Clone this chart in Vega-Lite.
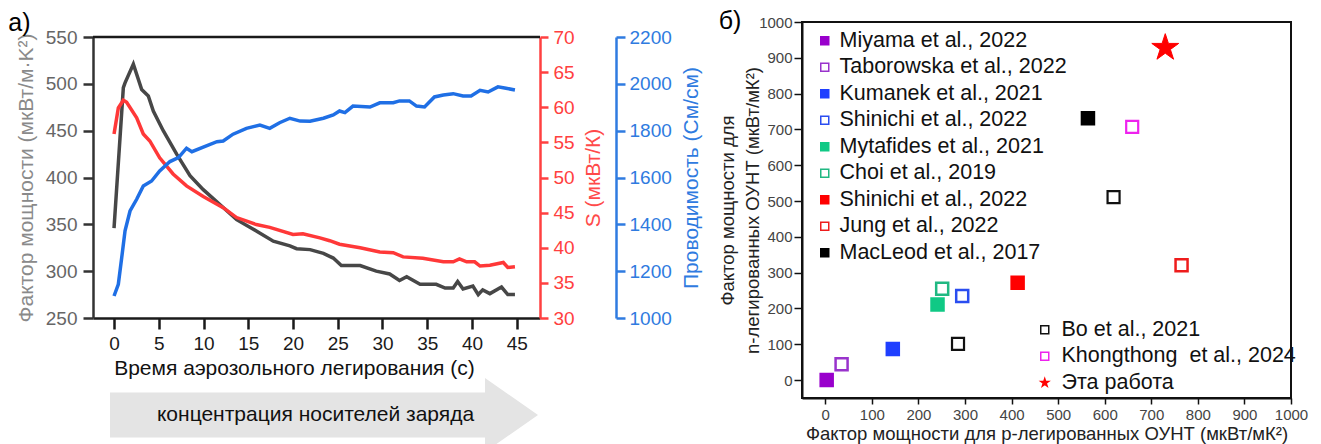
{
  "$schema": "https://vega.github.io/schema/vega-lite/v6.json",
  "padding": {"left": 8, "top": 8, "right": 0, "bottom": 0},
  "background": "white",
  "config": {
    "font": "Liberation Sans",
    "view": {"stroke": null},
    "legend": {"labelFontSize": 21.5, "labelColor": "#111111", "symbolSize": 64, "symbolStrokeWidth": 1.5, "rowPadding": 3.5, "padding": 0, "title": null, "labelLimit": 500}
  },
  "datasets": {
    "pf": [
      {"t": 0, "pf": 346}, {"t": 1.04, "pf": 496}, {"t": 1.23, "pf": 501}, {"t": 2.16, "pf": 521}, {"t": 3.09, "pf": 494},
      {"t": 3.83, "pf": 487}, {"t": 4.39, "pf": 471}, {"t": 5.5, "pf": 450}, {"t": 7.0, "pf": 425}, {"t": 8.49, "pf": 402},
      {"t": 9.97, "pf": 387}, {"t": 12.2, "pf": 368}, {"t": 13.7, "pf": 355}, {"t": 15.9, "pf": 343}, {"t": 17.8, "pf": 332},
      {"t": 19.65, "pf": 327}, {"t": 20.4, "pf": 324}, {"t": 21.9, "pf": 323}, {"t": 23.0, "pf": 320}, {"t": 23.4, "pf": 319},
      {"t": 24.5, "pf": 314}, {"t": 25.4, "pf": 306}, {"t": 27.5, "pf": 306}, {"t": 29.3, "pf": 300}, {"t": 30.8, "pf": 297},
      {"t": 31.9, "pf": 290}, {"t": 32.7, "pf": 294}, {"t": 34.2, "pf": 286}, {"t": 36.0, "pf": 286}, {"t": 37.0, "pf": 282},
      {"t": 37.9, "pf": 282}, {"t": 38.4, "pf": 289}, {"t": 39.0, "pf": 281}, {"t": 40.1, "pf": 284}, {"t": 40.7, "pf": 275},
      {"t": 41.2, "pf": 280}, {"t": 42.0, "pf": 276}, {"t": 43.3, "pf": 283}, {"t": 44.0, "pf": 275}, {"t": 44.8, "pf": 275}
    ],
    "seebeck": [
      {"t": 0, "s": 56.2}, {"t": 0.48, "s": 59.9}, {"t": 1.04, "s": 61.0}, {"t": 1.41, "s": 60.7}, {"t": 2.53, "s": 58.5},
      {"t": 3.27, "s": 56.2}, {"t": 4.0, "s": 55.2}, {"t": 5.1, "s": 52.8}, {"t": 6.6, "s": 50.5}, {"t": 8.1, "s": 48.8},
      {"t": 9.97, "s": 47.3}, {"t": 12.2, "s": 45.7}, {"t": 13.7, "s": 44.3}, {"t": 15.9, "s": 43.3}, {"t": 17.4, "s": 42.9},
      {"t": 20.0, "s": 41.9}, {"t": 21.1, "s": 42.0}, {"t": 23.0, "s": 41.4}, {"t": 24.1, "s": 41.0}, {"t": 25.2, "s": 40.5},
      {"t": 27.5, "s": 40.0}, {"t": 29.7, "s": 39.4}, {"t": 31.2, "s": 39.3}, {"t": 32.3, "s": 38.7}, {"t": 34.5, "s": 38.5},
      {"t": 36.8, "s": 38.0}, {"t": 37.9, "s": 38.0}, {"t": 38.6, "s": 38.4}, {"t": 39.4, "s": 38.0}, {"t": 40.3, "s": 38.0},
      {"t": 40.9, "s": 37.4}, {"t": 42.0, "s": 37.5}, {"t": 43.5, "s": 37.9}, {"t": 44.0, "s": 37.2}, {"t": 44.8, "s": 37.3}
    ],
    "cond": [
      {"t": 0, "c": 1094}, {"t": 0.48, "c": 1144}, {"t": 0.86, "c": 1258}, {"t": 1.23, "c": 1372}, {"t": 1.79, "c": 1457},
      {"t": 2.53, "c": 1507}, {"t": 3.27, "c": 1564}, {"t": 4.2, "c": 1585}, {"t": 5.1, "c": 1628}, {"t": 6.25, "c": 1668},
      {"t": 7.2, "c": 1685}, {"t": 8.1, "c": 1725}, {"t": 8.7, "c": 1710}, {"t": 9.97, "c": 1730}, {"t": 11.5, "c": 1753},
      {"t": 12.2, "c": 1756}, {"t": 13.3, "c": 1785}, {"t": 14.8, "c": 1810}, {"t": 16.3, "c": 1824}, {"t": 17.4, "c": 1810},
      {"t": 18.5, "c": 1834}, {"t": 19.65, "c": 1853}, {"t": 20.8, "c": 1841}, {"t": 21.9, "c": 1840}, {"t": 23.4, "c": 1853},
      {"t": 24.5, "c": 1867}, {"t": 25.2, "c": 1884}, {"t": 25.8, "c": 1877}, {"t": 26.7, "c": 1905}, {"t": 28.6, "c": 1901},
      {"t": 29.7, "c": 1919}, {"t": 31.2, "c": 1919}, {"t": 31.9, "c": 1927}, {"t": 33.0, "c": 1927}, {"t": 33.8, "c": 1905},
      {"t": 34.7, "c": 1901}, {"t": 35.8, "c": 1944}, {"t": 36.8, "c": 1952}, {"t": 37.9, "c": 1958}, {"t": 39.0, "c": 1948},
      {"t": 39.9, "c": 1948}, {"t": 40.9, "c": 1972}, {"t": 41.8, "c": 1965}, {"t": 42.9, "c": 1987}, {"t": 43.8, "c": 1981},
      {"t": 44.8, "c": 1974}
    ],
    "refsA": [
      {"study": "Miyama et al., 2022", "p": 3, "n": 0},
      {"study": "Taborowska et al., 2022", "p": 35, "n": 44},
      {"study": "Kumanek et al., 2021", "p": 145, "n": 87},
      {"study": "Shinichi et al., 2022", "p": 294, "n": 235},
      {"study": "Mytafides et al., 2021", "p": 241, "n": 211},
      {"study": "Choi et al., 2019", "p": 251, "n": 255},
      {"study": "\u00a0Shinichi et al., 2022", "p": 413, "n": 272},
      {"study": "\u00a0Jung et al., 2022", "p": 765, "n": 321},
      {"study": "\u00a0MacLeod et al., 2017", "p": 564, "n": 731}
    ],
    "refsB": [
      {"study": "Bo et al., 2021", "p": 285, "n": 101},
      {"study": "Bo et al., 2021", "p": 619, "n": 511},
      {"study": "Khongthong\u00a0 et al., 2024", "p": 659, "n": 707},
      {"study": "Эта работа", "p": 730, "n": 928}
    ]
  },
  "spacing": 15,
  "hconcat": [
    {
      "spacing": -19,
      "vconcat": [
        {
          "width": 447,
          "height": 296,
          "title": {"text": "а)", "anchor": "start", "frame": "bounds", "fontSize": 25, "fontWeight": "normal", "color": "#000000", "offset": -14, "dx": -7},
          "layer": [
            {
              "layer": [
                {
                  "data": {"name": "pf"},
                  "mark": {"type": "line", "color": "#474747", "strokeWidth": 3.5},
                  "encoding": {
                    "x": {"field": "t", "type": "quantitative", "scale": {"domain": [-2.35, 47.6], "nice": false, "zero": false},
                      "axis": {"title": "Время аэрозольного легирования (с)", "values": [0, 5, 10, 15, 20, 25, 30, 35, 40, 45], "grid": false, "labelFlush": false, "domainColor": "#1a1a1a", "domainWidth": 2.5, "tickColor": "#1a1a1a", "tickWidth": 2.5, "tickSize": 11, "labelColor": "#1a1a1a", "labelFontSize": 19, "labelPadding": 5, "titleColor": "#111111", "titleFontSize": 21, "titleFontWeight": "normal", "titlePadding": 4, "titleX": 201}},
                    "y": {"field": "pf", "type": "quantitative", "scale": {"domain": [250, 550], "range": [296, 15], "nice": false, "zero": false},
                      "axis": {"title": "Фактор мощности (мкВт/м·K²)", "orient": "left", "values": [250, 300, 350, 400, 450, 500, 550], "format": "d", "grid": false, "labelFlush": false, "domainColor": "#333333", "domainWidth": 2.5, "tickColor": "#333333", "tickWidth": 2.5, "tickSize": 10, "labelColor": "#666666", "labelFontSize": 19, "labelPadding": 6, "titleColor": "#8a8a8a", "titleFontSize": 21, "titleFontWeight": "normal", "titlePadding": 9}}
                  }
                },
                {
                  "data": {"values": [{}]},
                  "mark": {"type": "rule", "color": "#1a1a1a", "strokeWidth": 2.5},
                  "encoding": {"y": {"datum": 550}}
                }
              ]
            },
            {
              "data": {"name": "seebeck"},
              "mark": {"type": "line", "color": "#ff3838", "strokeWidth": 3.5},
              "encoding": {
                "x": {"field": "t", "type": "quantitative", "scale": {"domain": [-2.35, 47.6], "nice": false, "zero": false},
                  "axis": {"title": "Время аэрозольного легирования (с)", "values": [0, 5, 10, 15, 20, 25, 30, 35, 40, 45], "grid": false, "labelFlush": false, "domainColor": "#1a1a1a", "domainWidth": 2.5, "tickColor": "#1a1a1a", "tickWidth": 2.5, "tickSize": 11, "labelColor": "#1a1a1a", "labelFontSize": 19, "labelPadding": 5, "titleColor": "#111111", "titleFontSize": 21, "titleFontWeight": "normal", "titlePadding": 4, "titleX": 201}},
                "y": {"field": "s", "type": "quantitative", "scale": {"domain": [30, 70], "range": [296, 15], "nice": false, "zero": false},
                  "axis": {"title": "S (мкВт/К)", "orient": "right", "values": [30, 35, 40, 45, 50, 55, 60, 65, 70], "format": "d", "grid": false, "labelFlush": false, "domainColor": "#ff4040", "domainWidth": 2.5, "tickColor": "#ff4040", "tickWidth": 2.5, "tickSize": 8, "labelColor": "#ff4040", "labelFontSize": 19, "labelPadding": 5, "titleColor": "#ff4a4a", "titleFontSize": 21, "titleFontWeight": "normal", "titlePadding": 8, "titleAngle": 270, "titleBaseline": "top"}}
              }
            },
            {
              "data": {"name": "cond"},
              "mark": {"type": "line", "color": "#1f6fe5", "strokeWidth": 3.5},
              "encoding": {
                "x": {"field": "t", "type": "quantitative", "scale": {"domain": [-2.35, 47.6], "nice": false, "zero": false},
                  "axis": {"title": "Время аэрозольного легирования (с)", "values": [0, 5, 10, 15, 20, 25, 30, 35, 40, 45], "grid": false, "labelFlush": false, "domainColor": "#1a1a1a", "domainWidth": 2.5, "tickColor": "#1a1a1a", "tickWidth": 2.5, "tickSize": 11, "labelColor": "#1a1a1a", "labelFontSize": 19, "labelPadding": 5, "titleColor": "#111111", "titleFontSize": 21, "titleFontWeight": "normal", "titlePadding": 4, "titleX": 201}},
                "y": {"field": "c", "type": "quantitative", "scale": {"domain": [1000, 2200], "range": [296, 15], "nice": false, "zero": false},
                  "axis": {"title": "Проводимость (См/см)", "orient": "right", "offset": 76, "values": [1000, 1200, 1400, 1600, 1800, 2000, 2200], "format": "d", "grid": false, "labelFlush": false, "domainColor": "#2f7be0", "domainWidth": 2.5, "tickColor": "#2f7be0", "tickWidth": 2.5, "tickSize": 9, "labelColor": "#2f7be0", "labelFontSize": 19, "labelPadding": 4, "titleColor": "#2f7be0", "titleFontSize": 21, "titleFontWeight": "normal", "titlePadding": 9, "titleAngle": 270, "titleBaseline": "top"}}
              }
            }
          ],
          "resolve": {"scale": {"y": "independent"}, "axis": {"y": "independent"}}
        },
        {
          "width": 447,
          "height": 74,
          "data": {"values": [{"label": "концентрация носителей заряда"}]},
          "layer": [
            {
              "mark": {"type": "point", "shape": "M-20.65,-2.25L16.85,-2.25L16.85,-3.7L22.15,0L16.85,3.7L16.85,2.25L-20.65,2.25Z", "size": 400, "filled": true, "color": "#e4e4e4", "opacity": 1, "strokeWidth": 0},
              "encoding": {}
            },
            {
              "mark": {"type": "text", "fontSize": 21, "color": "#111111", "dx": -1, "baseline": "middle"},
              "encoding": {"text": {"field": "label"}}
            }
          ]
        }
      ]
    },
    {
      "width": 489,
      "height": 376,
      "view": {"stroke": "#111111", "strokeWidth": 2},
      "title": {"text": "б)", "anchor": "start", "frame": "bounds", "fontSize": 25, "fontWeight": "normal", "color": "#000000", "offset": -19},
      "encoding": {
        "x": {"field": "p", "type": "quantitative", "scale": {"domain": [-50, 1000], "nice": false, "zero": false},
          "axis": {"title": "Фактор мощности для p-легированных ОУНТ (мкВт/мК²)", "values": [0, 100, 200, 300, 400, 500, 600, 700, 800, 900, 1000], "format": "d", "grid": false, "labelFlush": false, "domainColor": "#111111", "domainWidth": 2, "tickColor": "#111111", "tickWidth": 1.5, "tickSize": 6, "labelColor": "#444444", "labelFontSize": 15, "labelPadding": 3, "titleColor": "#222222", "titleFontSize": 18.5, "titleFontWeight": "normal", "titlePadding": 2}},
        "y": {"field": "n", "type": "quantitative", "scale": {"domain": [-50, 1000], "nice": false, "zero": false},
          "axis": {"title": ["Фактор мощности для", "n-легированных ОУНТ (мкВт/мК²)"], "values": [0, 100, 200, 300, 400, 500, 600, 700, 800, 900, 1000], "format": "d", "grid": false, "labelFlush": false, "domainColor": "#111111", "domainWidth": 2, "tickColor": "#111111", "tickWidth": 1.5, "tickSize": 8, "labelColor": "#444444", "labelFontSize": 15, "labelPadding": 2, "titleColor": "#222222", "titleFontSize": 18.5, "titleFontWeight": "normal", "titlePadding": -4, "titleLineHeight": 25}}
      },
      "layer": [
        {
          "data": {"name": "refsA"},
          "mark": {"type": "square", "size": 144, "strokeWidth": 2.5, "opacity": 1},
          "encoding": {
            "fill": {"field": "study", "type": "nominal",
              "scale": {"domain": ["Miyama et al., 2022", "Taborowska et al., 2022", "Kumanek et al., 2021", "Shinichi et al., 2022", "Mytafides et al., 2021", "Choi et al., 2019", "\u00a0Shinichi et al., 2022", "\u00a0Jung et al., 2022", "\u00a0MacLeod et al., 2017"],
                "range": ["#9900cc", "transparent", "#1f3fff", "transparent", "#10c985", "transparent", "#ff0000", "transparent", "#000000"]},
              "legend": {"orient": "none", "legendX": 12, "legendY": 8, "labelOffset": 4}},
            "stroke": {"field": "study", "type": "nominal",
              "scale": {"domain": ["Miyama et al., 2022", "Taborowska et al., 2022", "Kumanek et al., 2021", "Shinichi et al., 2022", "Mytafides et al., 2021", "Choi et al., 2019", "\u00a0Shinichi et al., 2022", "\u00a0Jung et al., 2022", "\u00a0MacLeod et al., 2017"],
                "range": ["#9900cc", "#9933cc", "#1f3fff", "#2a4df0", "#10c985", "#20b882", "#ff0000", "#ee1c1c", "#000000"]},
              "legend": {"orient": "none", "legendX": 12, "legendY": 8, "labelOffset": 4}}
          }
        },
        {
          "data": {"name": "refsB"},
          "layer": [
            {
              "transform": [{"filter": "datum.study !== 'Эта работа'"}],
              "mark": {"type": "point", "filled": true, "size": 144, "strokeWidth": 2.2, "opacity": 1},
              "encoding": {
                "fill": {"field": "study", "type": "nominal", "scale": {"domain": ["Bo et al., 2021", "Khongthong\u00a0 et al., 2024", "Эта работа"], "range": ["transparent", "transparent", "#ff0000"]}, "legend": {"orient": "none", "legendX": 232, "legendY": 297, "labelOffset": 6}},
                "stroke": {"field": "study", "type": "nominal", "scale": {"domain": ["Bo et al., 2021", "Khongthong\u00a0 et al., 2024", "Эта работа"], "range": ["#111111", "#ee22ee", "#ff0000"]}, "legend": {"orient": "none", "legendX": 232, "legendY": 297, "labelOffset": 6}},
                "shape": {"field": "study", "type": "nominal", "scale": {"domain": ["Bo et al., 2021", "Khongthong\u00a0 et al., 2024", "Эта работа"], "range": ["square", "square", "M0,-1L0.2245,-0.309L0.951,-0.309L0.363,0.118L0.588,0.809L0,0.382L-0.588,0.809L-0.363,0.118L-0.951,-0.309L-0.2245,-0.309Z"]}, "legend": {"orient": "none", "legendX": 232, "legendY": 297, "labelOffset": 6}}
              }
            },
            {
              "transform": [{"filter": "datum.study === 'Эта работа'"}],
              "mark": {"type": "point", "filled": true, "size": 800, "strokeWidth": 1, "opacity": 1},
              "encoding": {
                "fill": {"field": "study", "type": "nominal", "scale": {"domain": ["Bo et al., 2021", "Khongthong\u00a0 et al., 2024", "Эта работа"], "range": ["transparent", "transparent", "#ff0000"]}, "legend": {"orient": "none", "legendX": 232, "legendY": 297, "labelOffset": 6}},
                "stroke": {"field": "study", "type": "nominal", "scale": {"domain": ["Bo et al., 2021", "Khongthong\u00a0 et al., 2024", "Эта работа"], "range": ["#111111", "#ee22ee", "#ff0000"]}, "legend": {"orient": "none", "legendX": 232, "legendY": 297, "labelOffset": 6}},
                "shape": {"field": "study", "type": "nominal", "scale": {"domain": ["Bo et al., 2021", "Khongthong\u00a0 et al., 2024", "Эта работа"], "range": ["square", "square", "M0,-1L0.2245,-0.309L0.951,-0.309L0.363,0.118L0.588,0.809L0,0.382L-0.588,0.809L-0.363,0.118L-0.951,-0.309L-0.2245,-0.309Z"]}, "legend": {"orient": "none", "legendX": 232, "legendY": 297, "labelOffset": 6}}
              }
            }
          ]
        }
      ],
      "resolve": {"scale": {"fill": "independent", "stroke": "independent", "shape": "independent"}, "legend": {"fill": "independent", "stroke": "independent", "shape": "independent"}}
    }
  ]
}
